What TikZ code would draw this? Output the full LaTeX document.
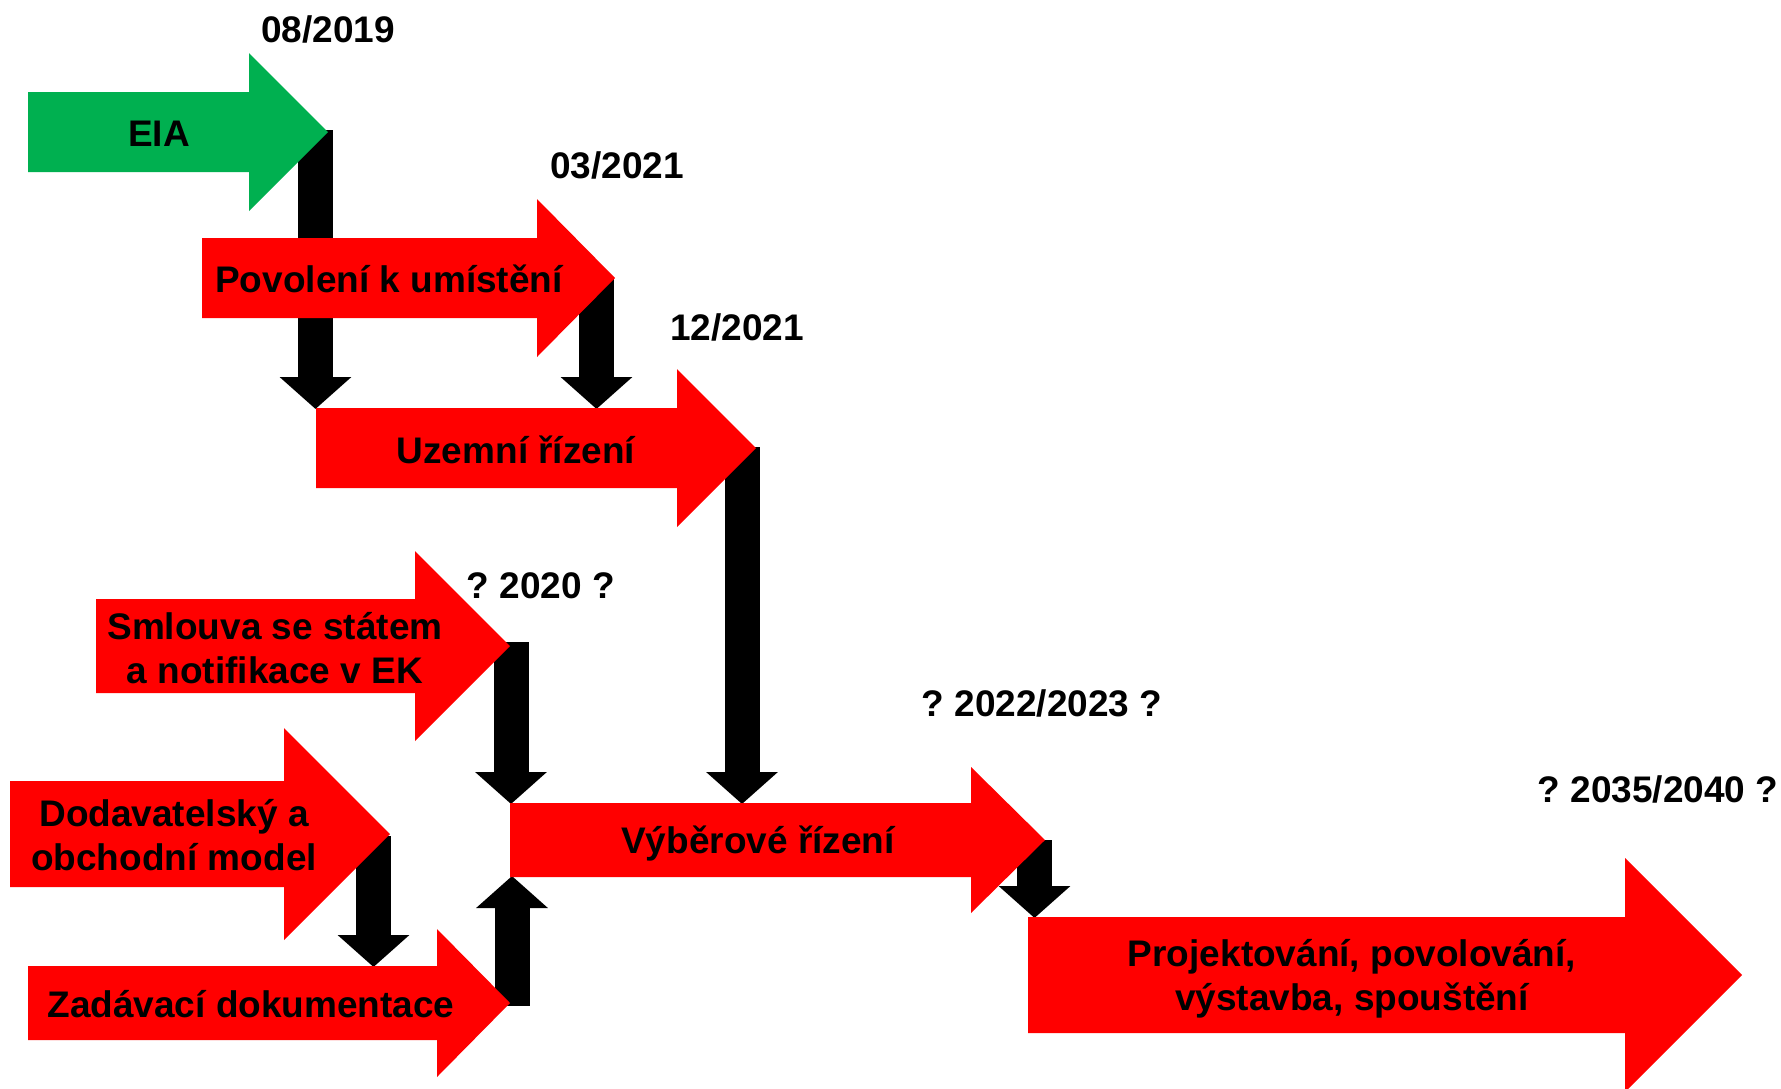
\documentclass[tikz,border=0pt]{standalone}
\usepackage{fontspec}
\setmainfont{Liberation Sans}
\usetikzlibrary{arrows.meta}
\definecolor{eiagreen}{HTML}{00B050}
\definecolor{stepred}{HTML}{FF0000}
\frenchspacing
% name, colour, left x, centre y, half body height, head base x, half head height, tip x
\newcommand{\blockarrow}[8]{%
  \fill[#2] (#3,{#4-#5}) -- (#6,{#4-#5}) -- (#6,{#4-#7}) -- (#8,#4) -- (#6,{#4+#7}) -- (#6,{#4+#5}) -- (#3,{#4+#5}) -- cycle;
  \coordinate (#1) at ({(#3+#6)/2},#4);
  \coordinate (#1-tip) at (#8,#4);
}
\begin{document}
\begin{tikzpicture}[x=1pt,y=-1pt,
  conn/.style={line width=35pt, draw=black, -{Triangle[width=70pt,length=32pt]}},
  lbl/.style={font=\bfseries\fontsize{37}{44}\selectfont\frenchspacing, inner sep=0pt, anchor=base, align=center, text=black}]
\useasboundingbox (0,0) rectangle (1781,1088);
\clip (0,0) rectangle (1781,1088);
\fill[white] (0,0) rectangle (1781,1088);

% connector end points
\coordinate (c1a) at (315.5,130);  \coordinate (c1b) at (315.5,409);
\coordinate (c2a) at (596.5,279);  \coordinate (c2b) at (596.5,409);
\coordinate (c3a) at (742,447);    \coordinate (c3b) at (742,804);
\coordinate (c4a) at (511,642);    \coordinate (c4b) at (511,804);
\coordinate (c5a) at (373.5,836);  \coordinate (c5b) at (373.5,967);
\coordinate (c6a) at (512,1006);   \coordinate (c6b) at (512,876);
\coordinate (c7a) at (1034.5,840); \coordinate (c7b) at (1034.5,918);

% connectors (behind the step arrows)
\draw[conn] (c1a) -- (c1b);
\draw[conn] (c2a) -- (c2b);
\draw[conn] (c3a) -- (c3b);
\draw[conn] (c4a) -- (c4b);
\draw[conn] (c5a) -- (c5b);
\draw[conn] (c6a) -- (c6b);
\draw[conn] (c7a) -- (c7b);

% step arrows
\blockarrow{eia}{eiagreen}{28}{132}{40}{249}{79}{328}
\blockarrow{pov}{stepred}{202}{278}{40}{537}{79}{615}
\blockarrow{uz}{stepred}{316}{448}{40}{677}{79}{756}
\blockarrow{sml}{stepred}{96}{646}{47}{415}{95}{510}
\blockarrow{dod}{stepred}{10}{834}{53}{284}{106}{390}
\blockarrow{zad}{stepred}{28}{1003}{37}{437}{74}{510}
\blockarrow{vyb}{stepred}{510}{840}{37}{971}{73}{1045}
\blockarrow{proj}{stepred}{1028}{975}{58}{1625}{117}{1742}

% labels (multi-line labels: base = baseline of last line)
\node[lbl] (t-eia) at (159,146) {EIA};
\node[lbl] (t-pov) at (389,292) {Povolení k umístění};
\node[lbl] (t-uz) at (516,463) {Uzemní řízení};
\node[lbl] (t-sml) at (275,683) {Smlouva se státem\\a notifikace v EK};
\node[lbl] (t-dod) at (174,870) {Dodavatelský a\\obchodní model};
\node[lbl] (t-zad) at (251,1017) {Zadávací dokumentace};
\node[lbl] (t-vyb) at (758,853) {Výběrové řízení};
\node[lbl] (t-proj) at (1352,1010) {Projektování, povolování,\\výstavba, spouštění};

% dates
\node[lbl] (d1) at (328,42) {08/2019};
\node[lbl] (d2) at (617,178) {03/2021};
\node[lbl] (d3) at (737,340) {12/2021};
\node[lbl] (d4) at (541,598) {? 2020 ?};
\node[lbl] (d5) at (1042,716) {? 2022/2023 ?};
\node[lbl] (d6) at (1658,802) {? 2035/2040 ?};
\end{tikzpicture}
\end{document}
